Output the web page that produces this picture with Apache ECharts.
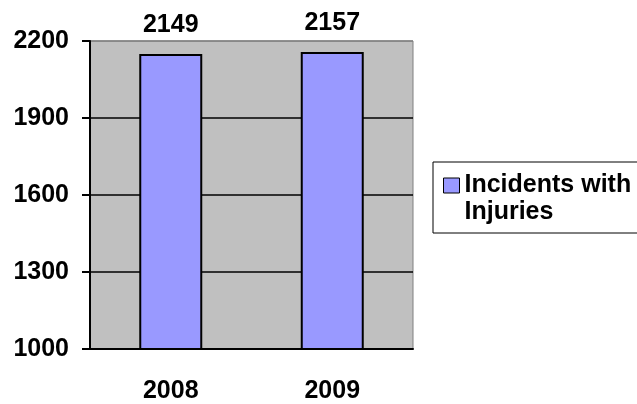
<!DOCTYPE html>
<html>
<head>
<meta charset="utf-8">
<script src="https://cdn.jsdelivr.net/npm/echarts@6/dist/echarts.min.js"></script>
<style>
  html, body { margin: 0; padding: 0; background: #fff; }
  #chart { width: 637px; height: 404px; }
</style>
</head>
<body>
<div id="chart"></div>
<script>
const years = ['2008', '2009']
const incidents = [2149, 2157]
const yTicks = [1000, 1300, 1600, 1900, 2200]
const seriesName = 'Incidents with\nInjuries'

// square marker sits at the top of a taller icon box so it lines up with the first text line
const legendIcon = 'path://M0,0L16,0L16,15L0,15Z M0,42L0,42'

const mychart = echarts.init(document.getElementById('chart'))
mychart.setOption({
  animation: false,
  textStyle: { fontFamily: 'Liberation Sans, Arial, sans-serif' },
  grid: {
    left: 90,
    top: 41,
    width: 323,
    height: 310,
    show: true,
    backgroundColor: '#c0c0c0',
    borderColor: '#808080',
    borderWidth: 1
  },
  legend: {
    left: 433,
    top: 162,
    orient: 'vertical',
    data: [seriesName],
    icon: legendIcon,
    itemWidth: 16,
    itemHeight: 42,
    itemGap: 0,
    padding: [10, 40, 7, 10],
    borderColor: '#000',
    borderWidth: 1,
    itemStyle: { borderColor: '#000', borderWidth: 1 },
    textStyle: {
      fontSize: 25,
      fontWeight: 'bold',
      color: '#000',
      lineHeight: 27
    }
  },
  xAxis: {
    type: 'category',
    data: years,
    axisLine: { lineStyle: { color: '#000', width: 2 } },
    axisTick: { length: 11, lineStyle: { color: '#000', width: 2 } },
    axisLabel: { margin: 30, fontSize: 25, fontWeight: 'bold', color: '#000' }
  },
  yAxis: {
    type: 'value',
    min: yTicks[0],
    max: yTicks[yTicks.length - 1],
    interval: 300,
    axisLine: { show: true, lineStyle: { color: '#000', width: 2 } },
    axisTick: { show: true, length: 8, lineStyle: { color: '#000', width: 2 } },
    axisLabel: {
      margin: 21,
      fontSize: 25,
      fontWeight: 'bold',
      color: '#000',
      formatter: (v) => String(v)
    },
    splitLine: {
      lineStyle: { color: ['#000', '#000', '#000', '#000', '#808080'], width: 1.5 }
    }
  },
  series: [{
    name: seriesName,
    type: 'bar',
    data: incidents,
    barWidth: 63,
    itemStyle: { color: '#9999ff', borderColor: '#000', borderWidth: 2 },
    label: {
      show: true,
      position: 'top',
      distance: 16,
      fontSize: 25,
      fontWeight: 'bold',
      color: '#000'
    }
  }]
})
</script>
</body>
</html>
